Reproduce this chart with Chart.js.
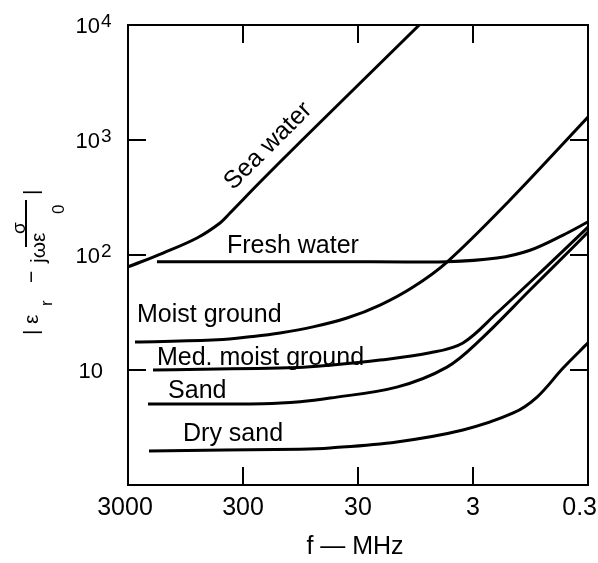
<!DOCTYPE html>
<html>
<head>
<meta charset="utf-8">
<script src="https://cdn.jsdelivr.net/npm/chart.js@4/dist/chart.umd.min.js"></script>
<style>
  html, body { margin: 0; padding: 0; background: #fff; }
  #wrap { width: 598px; height: 563px; }
</style>
</head>
<body>
<div id="wrap"><canvas id="chart"></canvas></div>
<script>
// frequency axis (MHz, runs high -> low) and magnitude axis
const freqTicks = [3000, 300, 30, 3, 0.3];
const freqTickLabels = ["3000", "300", "30", "3", "0.3"];
const magTicks = [10, 100, 1000, 10000];
const magTickExp = ["", "2", "3", "4"];

// curves: f in MHz, |er - j sigma/w e0|
const seaWaterF = [3000, 1489, 754, 475, 389, 213, 95.5, 8.8];
const seaWaterV = [78.7, 104, 140.6, 190, 232, 431, 961, 10000];

const freshWaterF = [1680, 50, 5.05, 1.86, 0.958, 0.494, 0.3];
const freshWaterV = [87.5, 87.5, 87.5, 94, 110, 149, 194];

const moistF = [2609, 500, 245, 143, 73.9, 37.4, 19.3, 9.95, 5.05, 1.43, 0.3];
const moistV = [17.5, 18.3, 19.6, 21.0, 23.7, 28.3, 36.7, 52.7, 86.9, 301, 1585];

const medMoistF = [1819, 100, 52.5, 19.3, 7.09, 3.67, 1.86, 0.74, 0.3];
const medMoistV = [10, 10.5, 11, 12.2, 14.1, 17.2, 31.3, 74, 175];

const sandF = [2010, 200, 95.5, 52.5, 13.8, 5.05, 2.61, 0.958, 0.43, 0.3];
const sandV = [5.06, 5.1, 5.3, 5.7, 7.1, 10.6, 18.2, 49.6, 110, 158];

const drySandF = [1970, 95.5, 52.5, 13.8, 3.67, 1.34, 0.832, 0.494, 0.3];
const drySandV = [1.98, 2.05, 2.1, 2.37, 3.01, 4.23, 5.82, 10.4, 17.2];

// curve captions, anchored in data units
const captions = [
  { text: "Sea water", f: 181, v: 887, angle: -45, center: true },
  { text: "Fresh water", f: 414, v: 104 },
  { text: "Moist ground", f: 2503, v: 26.1 },
  { text: "Med. moist ground", f: 1679, v: 11.0 },
  { text: "Sand", f: 1345, v: 5.71 },
  { text: "Dry sand", f: 997, v: 2.41 },
];

const FONT = '"Liberation Sans", Arial, sans-serif';

function toPoints(fs, vs) {
  return fs.map((f, i) => ({ x: f, y: vs[i] }));
}

function curve(fs, vs) {
  return {
    data: toPoints(fs, vs),
    borderColor: "#000",
    borderWidth: 3,
    pointRadius: 0,
    fill: false,
    tension: 0.35,
  };
}

// draws the box, inward ticks, tick labels, captions and axis titles
const decorPlugin = {
  id: "decor",
  afterDraw(chart) {
    const ctx = chart.ctx;
    const area = chart.chartArea;
    const xs = chart.scales.x;
    const ys = chart.scales.y;
    const tick = 18;

    ctx.save();
    ctx.strokeStyle = "#000";
    ctx.lineWidth = 2;
    ctx.strokeRect(area.left, area.top, area.right - area.left, area.bottom - area.top);

    ctx.beginPath();
    freqTicks.slice(1, -1).forEach((f) => {
      const px = xs.getPixelForValue(f);
      ctx.moveTo(px, area.top);
      ctx.lineTo(px, area.top + tick);
      ctx.moveTo(px, area.bottom);
      ctx.lineTo(px, area.bottom - tick);
    });
    magTicks.slice(0, -1).forEach((m) => {
      const py = ys.getPixelForValue(m);
      ctx.moveTo(area.left, py);
      ctx.lineTo(area.left + tick, py);
      ctx.moveTo(area.right, py);
      ctx.lineTo(area.right - tick, py);
    });
    ctx.stroke();

    ctx.fillStyle = "#000";
    // x tick labels
    ctx.font = "25px " + FONT;
    ctx.textBaseline = "middle";
    freqTicks.forEach((f, i) => {
      let px = xs.getPixelForValue(f);
      if (i === freqTicks.length - 1) {
        ctx.textAlign = "right";
        px = 597;
      } else {
        ctx.textAlign = "center";
        if (i === 0) px -= 3;
      }
      ctx.fillText(freqTickLabels[i], px, 508);
    });

    // y tick labels with superscripts
    magTicks.forEach((m, i) => {
      const py = ys.getPixelForValue(m);
      ctx.font = "22px " + FONT;
      ctx.textAlign = "right";
      ctx.textBaseline = "alphabetic";
      ctx.fillText("10", magTickExp[i] ? 100 : 103, py + 8);
      if (magTickExp[i]) {
        ctx.font = "19px " + FONT;
        ctx.textAlign = "left";
        ctx.fillText(magTickExp[i], 101, py + 2);
      }
    });

    // curve captions
    ctx.font = "25px " + FONT;
    captions.forEach((c) => {
      const px = xs.getPixelForValue(c.f);
      const py = ys.getPixelForValue(c.v);
      ctx.save();
      ctx.translate(px, py);
      if (c.angle) ctx.rotate((c.angle * Math.PI) / 180);
      ctx.textAlign = c.center ? "center" : "left";
      ctx.textBaseline = c.center ? "middle" : "alphabetic";
      ctx.fillText(c.text, 0, 0);
      ctx.restore();
    });

    // x axis title
    ctx.font = "25px " + FONT;
    ctx.textAlign = "center";
    ctx.textBaseline = "middle";
    ctx.fillText("f \u2014 MHz", 355, 547);

    // y axis title: |er - sigma / (j w e0)|, rotated
    ctx.save();
    ctx.translate(38, 333);
    ctx.rotate(-Math.PI / 2);
    ctx.textAlign = "left";
    ctx.textBaseline = "alphabetic";
    ctx.font = "21px " + FONT;
    ctx.fillText("|", -2, 0);
    ctx.fillText("\u03b5", 9, 0);
    ctx.font = "17px " + FONT;
    ctx.fillText("r", 27, 14);
    ctx.font = "21px " + FONT;
    ctx.fillText("\u2212", 50, 0);
    ctx.fillText("j\u03c9\u03b5", 70, 7);
    ctx.font = "17px " + FONT;
    ctx.fillText("0", 119, 26);
    ctx.font = "19px " + FONT;
    ctx.fillText("\u03c3", 99, -13);
    ctx.font = "21px " + FONT;
    ctx.fillText("|", 138, 0);
    ctx.lineWidth = 2;
    ctx.beginPath();
    ctx.moveTo(86, -12);
    ctx.lineTo(133, -12);
    ctx.stroke();
    ctx.restore();

    ctx.restore();
  },
};

new Chart(document.getElementById("chart"), {
  type: "line",
  data: {
    datasets: [
      curve(seaWaterF, seaWaterV),
      curve(freshWaterF, freshWaterV),
      curve(moistF, moistV),
      curve(medMoistF, medMoistV),
      curve(sandF, sandV),
      curve(drySandF, drySandV),
    ],
  },
  options: {
    responsive: true,
    maintainAspectRatio: false,
    animation: false,
    layout: { padding: { top: 25, right: 10, left: 0, bottom: 0 } },
    plugins: { legend: { display: false }, tooltip: { enabled: false } },
    scales: {
      x: {
        type: "logarithmic",
        reverse: true,
        min: 0.3,
        max: 3000,
        grid: { display: false },
        border: { display: false },
        ticks: { display: false },
        afterFit(scale) { scale.height = 78; },
      },
      y: {
        type: "logarithmic",
        min: 1,
        max: 10000,
        grid: { display: false },
        border: { display: false },
        ticks: { display: false },
        afterFit(scale) { scale.width = 128; },
      },
    },
  },
  plugins: [decorPlugin],
});
</script>
</body>
</html>
